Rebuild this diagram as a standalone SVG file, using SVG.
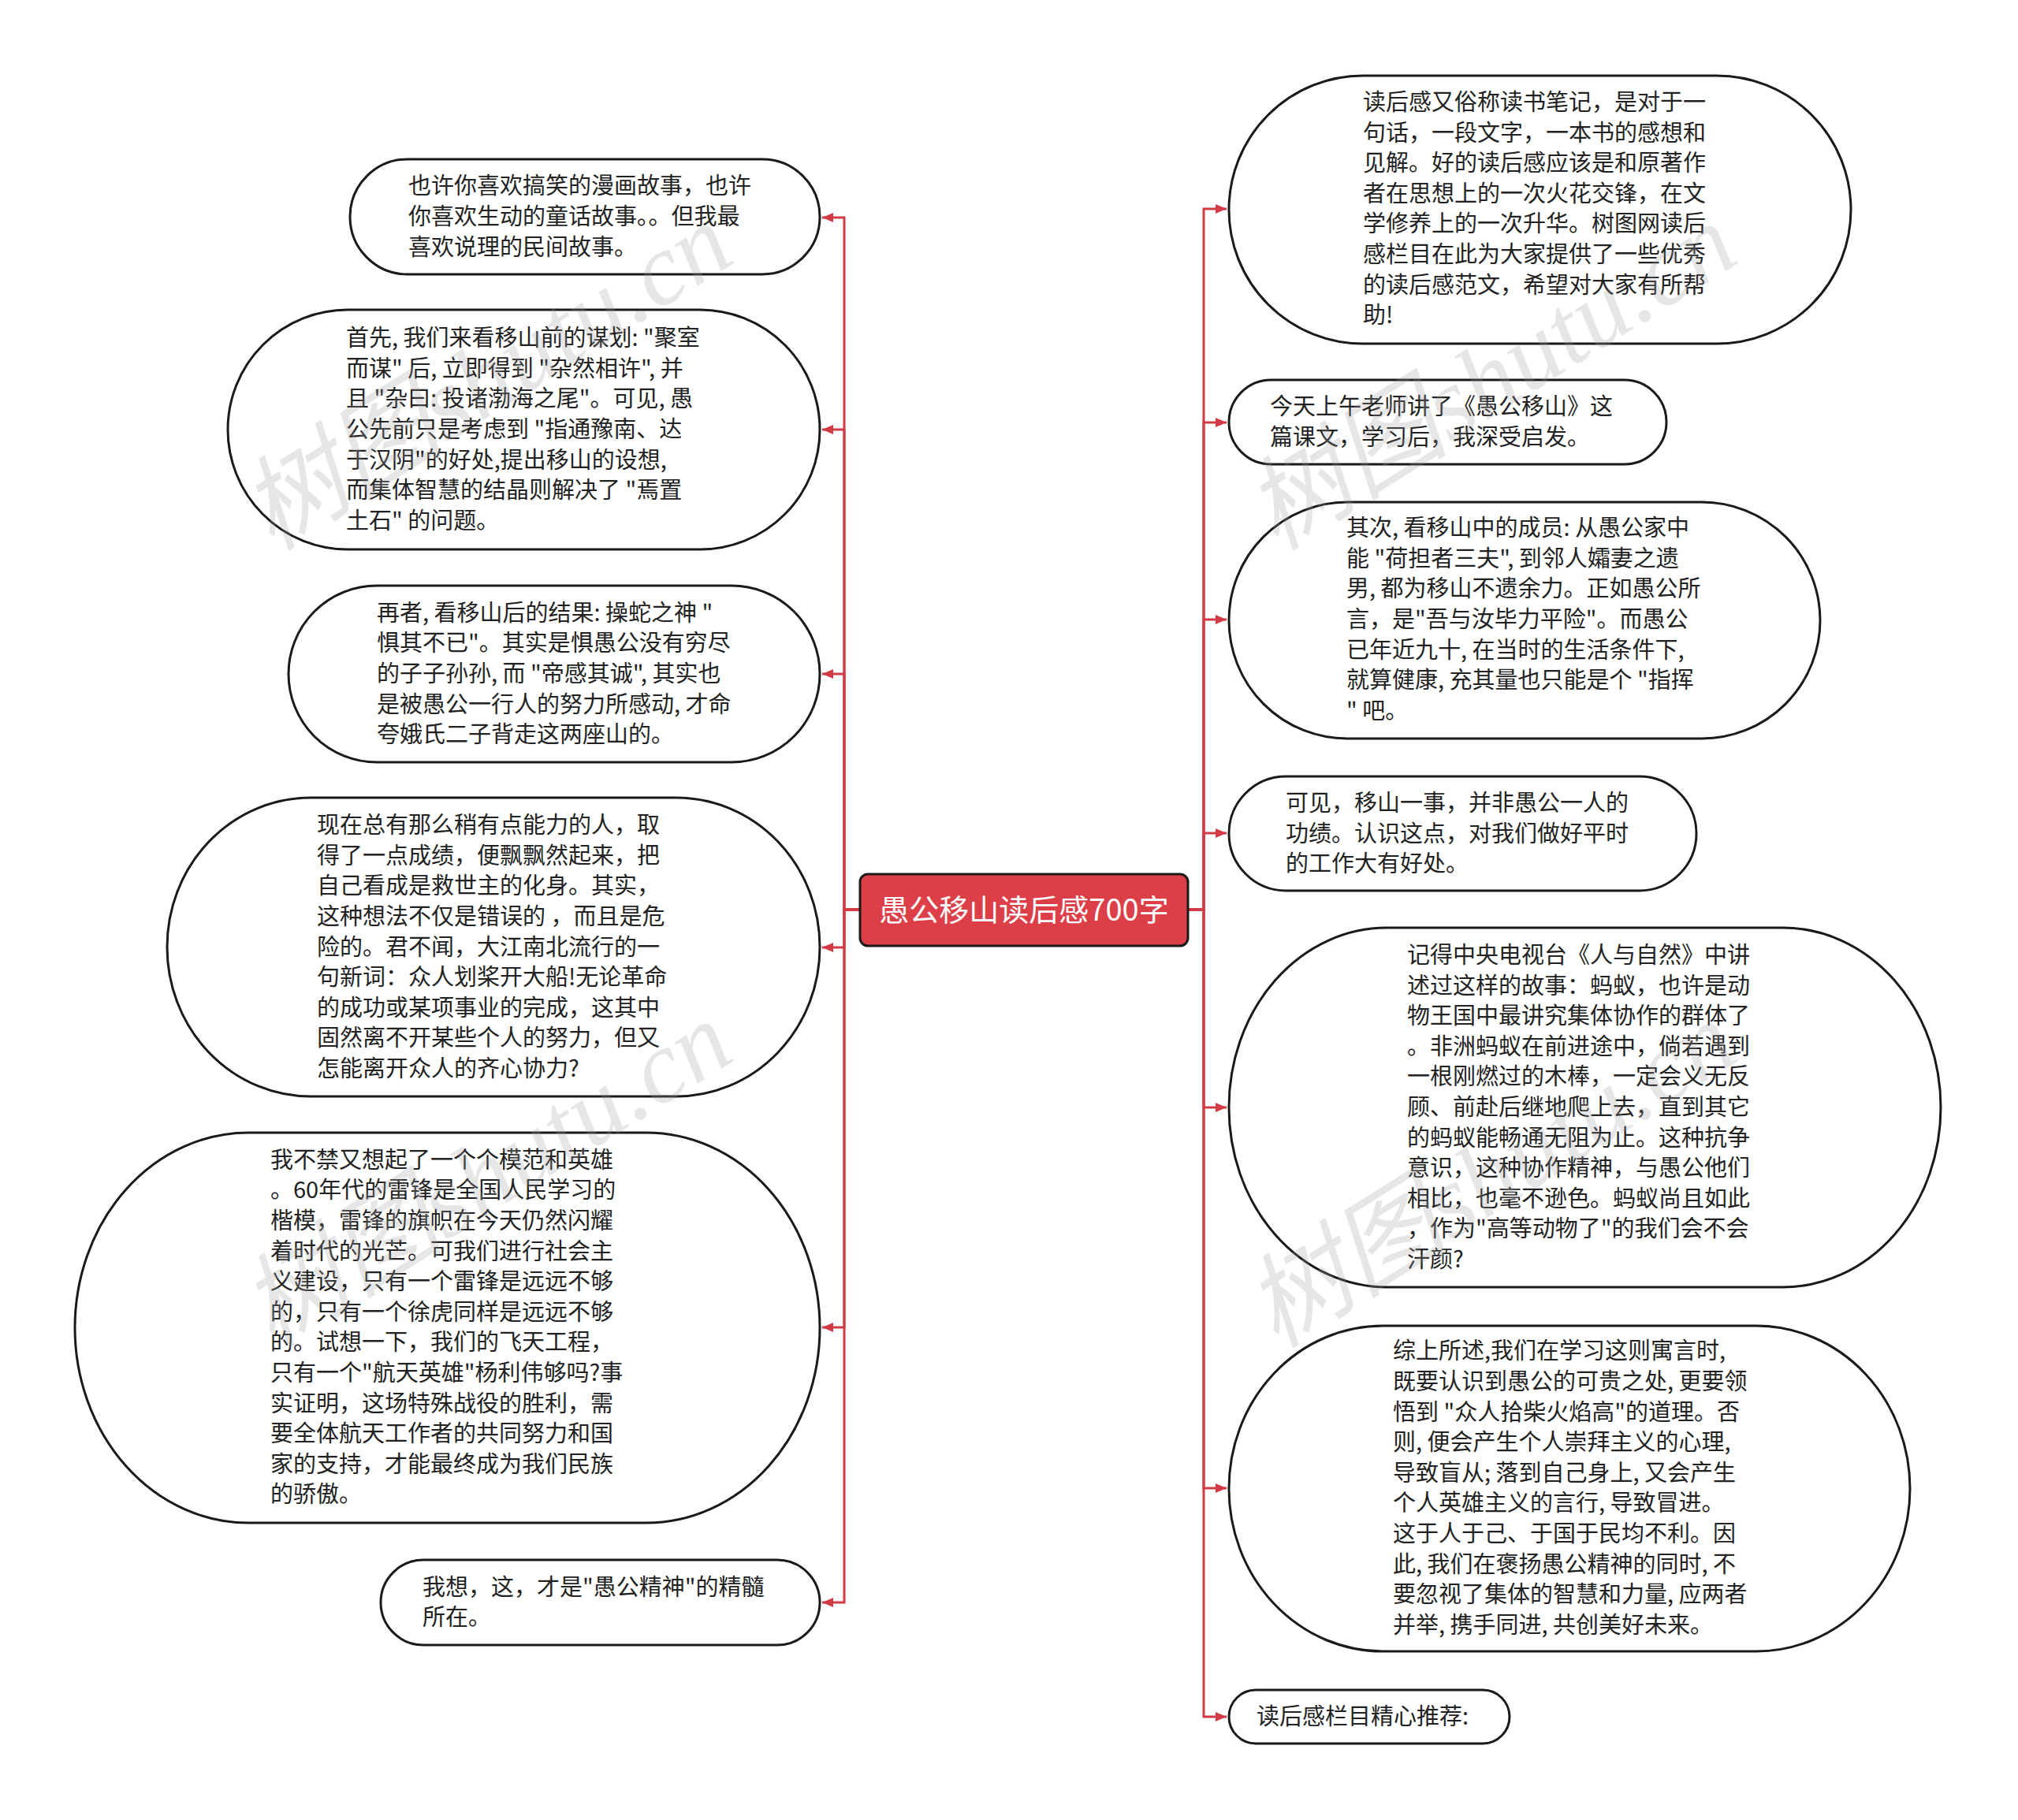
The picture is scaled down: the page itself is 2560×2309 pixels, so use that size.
<svg xmlns="http://www.w3.org/2000/svg" width="2560" height="2309" viewBox="0 0 2560 2309">
<defs>
<style>
.node{fill:#ffffff;stroke:#1a1a1a;stroke-width:3}
.t{font-family:"Noto Sans CJK SC","Noto Sans",sans-serif;font-size:29px;fill:#222222}
.title{font-family:"Noto Sans CJK SC","Noto Sans",sans-serif;font-size:38px;fill:#ffffff}
.conn{fill:none;stroke:#d23b45;stroke-width:3}
.wm{font-family:"Liberation Serif","Noto Sans CJK SC",serif;font-size:130px;font-style:italic;fill:#9a9a9a;fill-opacity:0.25}
</style>
<marker id="arr" markerUnits="userSpaceOnUse" markerWidth="16" markerHeight="14" refX="14" refY="7" orient="auto">
<path d="M0,1 L14,7 L0,13 z" fill="#d23b45"/>
</marker>
</defs>
<rect x="0" y="0" width="2560" height="2309" fill="#ffffff"/>

<g id="connectors">
<path class="conn" marker-end="url(#arr)" d="M1091 1154 H1071 V276 H1043"/>
<path class="conn" marker-end="url(#arr)" d="M1091 1154 H1071 V545 H1043"/>
<path class="conn" marker-end="url(#arr)" d="M1091 1154 H1071 V855 H1043"/>
<path class="conn" marker-end="url(#arr)" d="M1091 1154 H1071 V1202 H1043"/>
<path class="conn" marker-end="url(#arr)" d="M1091 1154 H1071 V1684 H1043"/>
<path class="conn" marker-end="url(#arr)" d="M1091 1154 H1071 V2033 H1043"/>
<path class="conn" marker-end="url(#arr)" d="M1507 1154 H1527 V265 H1556"/>
<path class="conn" marker-end="url(#arr)" d="M1507 1154 H1527 V536 H1556"/>
<path class="conn" marker-end="url(#arr)" d="M1507 1154 H1527 V786 H1556"/>
<path class="conn" marker-end="url(#arr)" d="M1507 1154 H1527 V1057 H1556"/>
<path class="conn" marker-end="url(#arr)" d="M1507 1154 H1527 V1405 H1556"/>
<path class="conn" marker-end="url(#arr)" d="M1507 1154 H1527 V1888 H1556"/>
<path class="conn" marker-end="url(#arr)" d="M1507 1154 H1527 V2178 H1556"/>
</g>

<g id="root">
<rect x="1091" y="1109" width="416" height="91" rx="10" ry="10" fill="#dc3f48" stroke="#1a1a1a" stroke-width="3"/>
<text class="title" x="1299" y="1168" text-anchor="middle">愚公移山读后感700字</text>
</g>

<g id="L1">
<rect class="node" x="444" y="202" width="596" height="146" rx="73" ry="73"/>
<text class="t" x="518" y="246.4"><tspan x="518">也许你喜欢搞笑的漫画故事，也许</tspan><tspan x="518" dy="38.6">你喜欢生动的童话故事。。但我最</tspan><tspan x="518" dy="38.6">喜欢说理的民间故事。</tspan></text>
</g>

<g id="L2">
<rect class="node" x="289" y="393" width="751" height="304" rx="152" ry="152"/>
<text class="t" x="439" y="439.2"><tspan x="439">首先, 我们来看移山前的谋划: "聚室</tspan><tspan x="439" dy="38.6">而谋" 后, 立即得到 "杂然相许", 并</tspan><tspan x="439" dy="38.6">且 "杂曰: 投诸渤海之尾"。可见, 愚</tspan><tspan x="439" dy="38.6">公先前只是考虑到 "指通豫南、达</tspan><tspan x="439" dy="38.6">于汉阴"的好处,提出移山的设想,</tspan><tspan x="439" dy="38.6">而集体智慧的结晶则解决了 "焉置</tspan><tspan x="439" dy="38.6">土石" 的问题。</tspan></text>
</g>

<g id="L3">
<rect class="node" x="366" y="743" width="674" height="224" rx="112" ry="112"/>
<text class="t" x="478" y="787.8"><tspan x="478">再者, 看移山后的结果: 操蛇之神 "</tspan><tspan x="478" dy="38.6">惧其不已"。其实是惧愚公没有穷尽</tspan><tspan x="478" dy="38.6">的子子孙孙, 而 "帝感其诚", 其实也</tspan><tspan x="478" dy="38.6">是被愚公一行人的努力所感动, 才命</tspan><tspan x="478" dy="38.6">夸娥氏二子背走这两座山的。</tspan></text>
</g>

<g id="L4">
<rect class="node" x="212" y="1012" width="828" height="379" rx="182" ry="189.5"/>
<text class="t" x="402" y="1057.1"><tspan x="402">现在总有那么稍有点能力的人，取</tspan><tspan x="402" dy="38.6">得了一点成绩，便飘飘然起来，把</tspan><tspan x="402" dy="38.6">自己看成是救世主的化身。其实，</tspan><tspan x="402" dy="38.6">这种想法不仅是错误的 ，而且是危</tspan><tspan x="402" dy="38.6">险的。君不闻，大江南北流行的一</tspan><tspan x="402" dy="38.6">句新词：众人划桨开大船!无论革命</tspan><tspan x="402" dy="38.6">的成功或某项事业的完成，这其中</tspan><tspan x="402" dy="38.6">固然离不开某些个人的努力，但又</tspan><tspan x="402" dy="38.6">怎能离开众人的齐心协力?</tspan></text>
</g>

<g id="L5">
<rect class="node" x="95" y="1437" width="945" height="495" rx="220" ry="247.5"/>
<text class="t" x="343" y="1481.7"><tspan x="343">我不禁又想起了一个个模范和英雄</tspan><tspan x="343" dy="38.6">。60年代的雷锋是全国人民学习的</tspan><tspan x="343" dy="38.6">楷模，雷锋的旗帜在今天仍然闪耀</tspan><tspan x="343" dy="38.6">着时代的光芒。可我们进行社会主</tspan><tspan x="343" dy="38.6">义建设，只有一个雷锋是远远不够</tspan><tspan x="343" dy="38.6">的，只有一个徐虎同样是远远不够</tspan><tspan x="343" dy="38.6">的。试想一下，我们的飞天工程，</tspan><tspan x="343" dy="38.6">只有一个"航天英雄"杨利伟够吗?事</tspan><tspan x="343" dy="38.6">实证明，这场特殊战役的胜利，需</tspan><tspan x="343" dy="38.6">要全体航天工作者的共同努力和国</tspan><tspan x="343" dy="38.6">家的支持，才能最终成为我们民族</tspan><tspan x="343" dy="38.6">的骄傲。</tspan></text>
</g>

<g id="L6">
<rect class="node" x="483" y="1979" width="557" height="108" rx="54" ry="54"/>
<text class="t" x="536" y="2023.7"><tspan x="536">我想，这，才是"愚公精神"的精髓</tspan><tspan x="536" dy="38.6">所在。</tspan></text>
</g>

<g id="R1">
<rect class="node" x="1559" y="96" width="789" height="340" rx="170" ry="170"/>
<text class="t" x="1729" y="139.9"><tspan x="1729">读后感又俗称读书笔记，是对于一</tspan><tspan x="1729" dy="38.6">句话，一段文字，一本书的感想和</tspan><tspan x="1729" dy="38.6">见解。好的读后感应该是和原著作</tspan><tspan x="1729" dy="38.6">者在思想上的一次火花交锋，在文</tspan><tspan x="1729" dy="38.6">学修养上的一次升华。树图网读后</tspan><tspan x="1729" dy="38.6">感栏目在此为大家提供了一些优秀</tspan><tspan x="1729" dy="38.6">的读后感范文，希望对大家有所帮</tspan><tspan x="1729" dy="38.6">助!</tspan></text>
</g>

<g id="R2">
<rect class="node" x="1559" y="482" width="555" height="107" rx="53.5" ry="53.5"/>
<text class="t" x="1611" y="526.2"><tspan x="1611">今天上午老师讲了《愚公移山》这</tspan><tspan x="1611" dy="38.6">篇课文，学习后，我深受启发。</tspan></text>
</g>

<g id="R3">
<rect class="node" x="1559" y="637" width="750" height="300" rx="150" ry="150"/>
<text class="t" x="1708" y="680.2"><tspan x="1708">其次, 看移山中的成员: 从愚公家中</tspan><tspan x="1708" dy="38.6">能 "荷担者三夫", 到邻人孀妻之遗</tspan><tspan x="1708" dy="38.6">男, 都为移山不遗余力。正如愚公所</tspan><tspan x="1708" dy="38.6">言，是"吾与汝毕力平险"。而愚公</tspan><tspan x="1708" dy="38.6">已年近九十, 在当时的生活条件下,</tspan><tspan x="1708" dy="38.6">就算健康, 充其量也只能是个 "指挥</tspan><tspan x="1708" dy="38.6">" 吧。</tspan></text>
</g>

<g id="R4">
<rect class="node" x="1559" y="985" width="593" height="145" rx="72.5" ry="72.5"/>
<text class="t" x="1631" y="1028.9"><tspan x="1631">可见，移山一事，并非愚公一人的</tspan><tspan x="1631" dy="38.6">功绩。认识这点，对我们做好平时</tspan><tspan x="1631" dy="38.6">的工作大有好处。</tspan></text>
</g>

<g id="R5">
<rect class="node" x="1559" y="1177" width="903" height="456" rx="200" ry="228"/>
<text class="t" x="1785" y="1222"><tspan x="1785">记得中央电视台《人与自然》中讲</tspan><tspan x="1785" dy="38.6">述过这样的故事：蚂蚁，也许是动</tspan><tspan x="1785" dy="38.6">物王国中最讲究集体协作的群体了</tspan><tspan x="1785" dy="38.6">。非洲蚂蚁在前进途中，倘若遇到</tspan><tspan x="1785" dy="38.6">一根刚燃过的木棒，一定会义无反</tspan><tspan x="1785" dy="38.6">顾、前赴后继地爬上去，直到其它</tspan><tspan x="1785" dy="38.6">的蚂蚁能畅通无阻为止。这种抗争</tspan><tspan x="1785" dy="38.6">意识，这种协作精神，与愚公他们</tspan><tspan x="1785" dy="38.6">相比，也毫不逊色。蚂蚁尚且如此</tspan><tspan x="1785" dy="38.6">，作为"高等动物了"的我们会不会</tspan><tspan x="1785" dy="38.6">汗颜?</tspan></text>
</g>

<g id="R6">
<rect class="node" x="1559" y="1682" width="864" height="413" rx="195" ry="206.5"/>
<text class="t" x="1767" y="1724.3"><tspan x="1767">综上所述,我们在学习这则寓言时,</tspan><tspan x="1767" dy="38.6">既要认识到愚公的可贵之处, 更要领</tspan><tspan x="1767" dy="38.6">悟到 "众人拾柴火焰高"的道理。否</tspan><tspan x="1767" dy="38.6">则, 便会产生个人崇拜主义的心理,</tspan><tspan x="1767" dy="38.6">导致盲从; 落到自己身上, 又会产生</tspan><tspan x="1767" dy="38.6">个人英雄主义的言行, 导致冒进。</tspan><tspan x="1767" dy="38.6">这于人于己、于国于民均不利。因</tspan><tspan x="1767" dy="38.6">此, 我们在褒扬愚公精神的同时, 不</tspan><tspan x="1767" dy="38.6">要忽视了集体的智慧和力量, 应两者</tspan><tspan x="1767" dy="38.6">并举, 携手同进, 共创美好未来。</tspan></text>
</g>

<g id="R7">
<rect class="node" x="1559" y="2144" width="356" height="68" rx="34" ry="34"/>
<text class="t" x="1594" y="2188">读后感栏目精心推荐:</text>
</g>

<g id="watermarks">
<text class="wm" transform="translate(345 700) rotate(-32)">树图shutu.cn</text>
<text class="wm" transform="translate(1619 700) rotate(-32)">树图shutu.cn</text>
<text class="wm" transform="translate(345 1712) rotate(-32)">树图shutu.cn</text>
<text class="wm" transform="translate(1619 1712) rotate(-32)">树图shutu.cn</text>
</g>
</svg>
